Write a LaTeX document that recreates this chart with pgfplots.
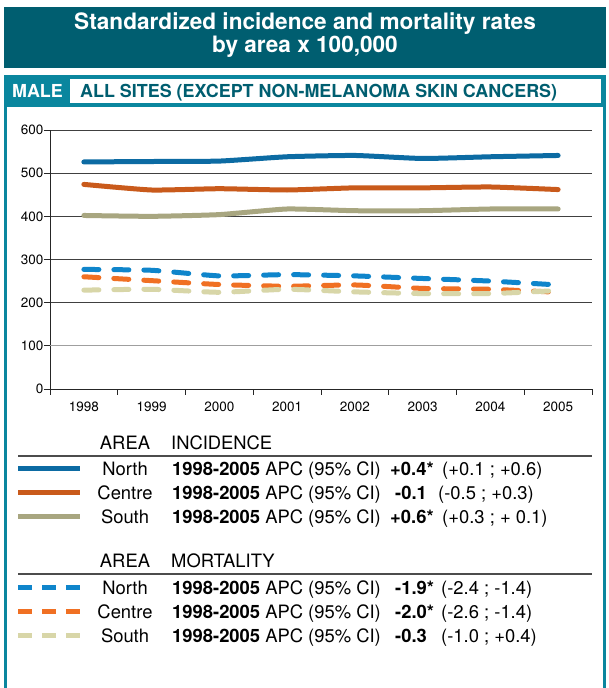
\documentclass[border=0pt]{standalone}
\usepackage{fontspec}
\setmainfont{TeX Gyre Heros}
\usepackage{pgfplots}
\pgfplotsset{compat=1.18}
\definecolor{titlebg}{RGB}{0,94,112}
\definecolor{framec}{RGB}{10,134,158}
\definecolor{incN}{RGB}{12,107,163}
\definecolor{incC}{RGB}{201,90,27}
\definecolor{incS}{RGB}{168,166,128}
\definecolor{morN}{RGB}{15,133,203}
\definecolor{morC}{RGB}{240,112,35}
\definecolor{morS}{RGB}{216,214,168}
\newcommand\lgf{\fontsize{18.4}{21}\selectfont}
\newcommand\hdf{\fontsize{17.9}{21}\selectfont}
\begin{document}
\begin{tikzpicture}[x=1pt,y=1pt]
\path[use as bounding box] (0,0) rectangle (608,688);
% title bar
\fill[titlebg] (4,620) rectangle (606,681);
\node[white, align=center, font=\fontsize{22.6}{23}\selectfont\bfseries] at (305,652.5)
  {Standardized incidence and mortality rates\\by area x 100,000};
% frame
\fill[framec] (4,0) rectangle (606,613);
\fill[white] (7,0) rectangle (603,581);
\fill[white] (70,585) rectangle (601,609);
\node[white, font=\hdf\bfseries, anchor=base, inner sep=0] at (37.5,590.5) {MALE};
\node[titlebg, font=\hdf\bfseries, anchor=base west, inner sep=0] at (80,590.5) {ALL SITES (EXCEPT NON-MELANOMA SKIN CANCERS)};
% chart
\begin{axis}[
  at={(50pt,299pt)}, anchor=south west, scale only axis,
  width=542pt, height=259pt,
  xmin=-0.5, xmax=7.5, ymin=0, ymax=600,
  axis x line*=bottom, axis y line*=left,
  axis line style={black!85, line width=0.8pt},
  xtick={0,...,7},
  xticklabels={1998,1999,2000,2001,2002,2003,2004,2005},
  major x tick style={draw=none},
  minor xtick={-0.5,0.5,...,7.5},
  ytick={0,200,300,400,500,600},
  extra y ticks={100},
  extra y tick style={major grid style={gray!75, line width=1pt}},
  ymajorgrids, grid style={black!75, line width=0.8pt},
  tick align=outside, major tick length=6pt, minor tick length=6pt,
  tick style={black!85, line width=0.8pt},
  ticklabel style={font=\fontsize{13.5}{15}\selectfont, text=black},
  /pgf/number format/assume math mode=true,
  yticklabel style={inner sep=0.5pt},
  xticklabel style={yshift=-3pt},
  clip=false,
]
\addplot[incN, line width=5pt, line cap=round, line join=round, smooth, tension=0.3]
  coordinates {(0,526) (1,527) (2,528) (3,538) (4,541) (5,534) (6,538) (7,541)};
\addplot[incC, line width=5pt, line cap=round, line join=round, smooth, tension=0.3]
  coordinates {(0,474) (1,461) (2,464) (3,461) (4,466) (5,466) (6,468) (7,462)};
\addplot[incS, line width=5pt, line cap=round, line join=round, smooth, tension=0.3]
  coordinates {(0,402) (1,400) (2,404) (3,417) (4,413) (5,413) (6,417) (7,417)};
\addplot[morN, line width=5pt, line cap=round, dash pattern=on 15pt off 15pt, smooth, tension=0.3]
  coordinates {(0,277) (1,275) (2,262) (3,265) (4,262) (5,256) (6,250) (7,241)};
\addplot[morC, line width=5pt, line cap=round, dash pattern=on 15pt off 15pt, smooth, tension=0.3]
  coordinates {(0,260) (1,251) (2,242) (3,238) (4,241) (5,233) (6,231) (7,224)};
\addplot[morS, line width=5pt, line cap=round, dash pattern=on 15pt off 15pt, smooth, tension=0.3]
  coordinates {(0,229) (1,231) (2,224) (3,231) (4,225) (5,221) (6,221) (7,228)};
\end{axis}
% legend: incidence
\node[anchor=base, inner sep=0, font=\lgf] at (125,238.5) {AREA};
\node[anchor=base west, inner sep=0, font=\lgf] at (171,238.5) {INCIDENCE};
\draw[black!70, line width=1.2pt] (18,232) -- (592,232);
\draw[incN, line width=5pt] (18,219) -- (80,219);
\draw[incC, line width=5pt] (18,195) -- (80,195);
\draw[incS, line width=5pt] (18,171) -- (80,171);
\node[anchor=base, inner sep=0, font=\lgf] at (125,212.5) {North};
\node[anchor=base, inner sep=0, font=\lgf] at (125,188.5) {Centre};
\node[anchor=base, inner sep=0, font=\lgf] at (125,164.5) {South};
\foreach \b in {212.5,188.5,164.5}
  \node[anchor=base west, inner sep=0, font=\lgf] at (172,\b) {\textbf{1998-2005} APC (95\% CI)};
\node[anchor=base west, inner sep=0, font=\lgf\bfseries] at (390,212.5) {+0.4*};
\node[anchor=base west, inner sep=0, font=\lgf\bfseries] at (395,188.5) {-0.1};
\node[anchor=base west, inner sep=0, font=\lgf\bfseries] at (390,164.5) {+0.6*};
\node[anchor=base west, inner sep=0, font=\lgf] at (442,212.5) {(+0.1 ; +0.6)};
\node[anchor=base west, inner sep=0, font=\lgf] at (438,188.5) {(-0.5 ; +0.3)};
\node[anchor=base west, inner sep=0, font=\lgf] at (442,164.5) {(+0.3 ; + 0.1)};
% legend: mortality
\node[anchor=base, inner sep=0, font=\lgf] at (125,120.5) {AREA};
\node[anchor=base west, inner sep=0, font=\lgf] at (171,120.5) {MORTALITY};
\draw[black!70, line width=1.2pt] (18,114) -- (592,114);
\draw[morN, line width=5pt, dash pattern=on 14pt off 10pt] (18,100) -- (80,100);
\draw[morC, line width=5pt, dash pattern=on 14pt off 10pt] (18,76) -- (80,76);
\draw[morS, line width=5pt, dash pattern=on 14pt off 10pt] (18,52) -- (80,52);
\node[anchor=base, inner sep=0, font=\lgf] at (125,93.5) {North};
\node[anchor=base, inner sep=0, font=\lgf] at (125,69.5) {Centre};
\node[anchor=base, inner sep=0, font=\lgf] at (125,45.5) {South};
\foreach \b in {93.5,69.5,45.5}
  \node[anchor=base west, inner sep=0, font=\lgf] at (172,\b) {\textbf{1998-2005} APC (95\% CI)};
\node[anchor=base west, inner sep=0, font=\lgf\bfseries] at (395,93.5) {-1.9*};
\node[anchor=base west, inner sep=0, font=\lgf\bfseries] at (395,69.5) {-2.0*};
\node[anchor=base west, inner sep=0, font=\lgf\bfseries] at (395,45.5) {-0.3};
\node[anchor=base west, inner sep=0, font=\lgf] at (441,93.5) {(-2.4 ; -1.4)};
\node[anchor=base west, inner sep=0, font=\lgf] at (441,69.5) {(-2.6 ; -1.4)};
\node[anchor=base west, inner sep=0, font=\lgf] at (441,45.5) {(-1.0 ; +0.4)};
\end{tikzpicture}
\end{document}
